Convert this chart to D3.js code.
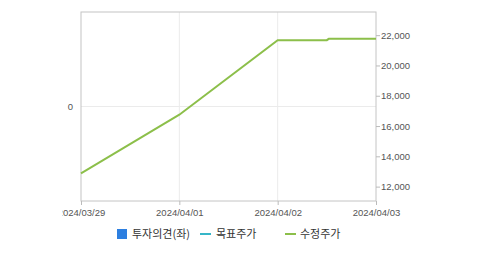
<!DOCTYPE html>
<html>
<head>
<meta charset="utf-8">
<script src="https://cdn.jsdelivr.net/npm/d3@7"></script>
<style>
    body { margin: 0; background: #fff; }
    text { font-family: "Liberation Sans", Arial, sans-serif; }
</style>
</head>
<body>
<div id="chart"></div>
<script>
// dates on the x axis
const dates = ['2024/03/29', '2024/04/01', '2024/04/02', '2024/04/03'];
// 수정주가 points: position along the date axis (index) and price
const priceIdx = [0, 1, 2, 2.5, 2.52, 3];
const priceVal = [12880, 16750, 21670, 21670, 21760, 21760];
// right axis ticks
const rightTicks = [12000, 14000, 16000, 18000, 20000, 22000];
const leftTicks = [0];
const legendItems = ['투자의견(좌)', '목표주가', '수정주가'];

const width = 479, height = 254;
const margin = {top: 12, right: 103, bottom: 53, left: 81};

const svg = d3.select('#chart').append('svg')
    .attr('width', width)
    .attr('height', height);

let x = d3.scaleLinear()
    .domain([0, dates.length - 1])
    .range([margin.left, width - margin.right]);
let y = d3.scaleLinear()
    .domain([11050, 23530])
    .range([height - margin.bottom, margin.top]);
let yLeft = d3.scaleLinear()
    .domain([-1, 1])
    .range([height - margin.bottom, margin.top]);

// grid lines
svg.append('g')
    .selectAll('line')
    .data(dates.slice(1, -1))
    .enter().append('line')
    .attr('x1', (d, i) => x(i + 1))
    .attr('x2', (d, i) => x(i + 1))
    .attr('y1', margin.top)
    .attr('y2', height - margin.bottom)
    .attr('stroke', '#ebebeb');
svg.append('g')
    .selectAll('line')
    .data(leftTicks)
    .enter().append('line')
    .attr('x1', margin.left)
    .attr('x2', width - margin.right)
    .attr('y1', d => yLeft(d))
    .attr('y2', d => yLeft(d))
    .attr('stroke', '#ebebeb');

// plot box
svg.append('rect')
    .attr('x', margin.left)
    .attr('y', margin.top)
    .attr('width', width - margin.left - margin.right)
    .attr('height', height - margin.top - margin.bottom)
    .attr('fill', 'none')
    .attr('stroke', '#c4c4c4');

// bottom axis (first label is cut off on the left, like the original)
svg.append('clipPath').attr('id', 'xclip')
    .append('rect').attr('x', 62.5).attr('y', -5).attr('width', 400).attr('height', 40);
let xAxis = svg.append('g')
    .attr('transform', 'translate(0,' + (height - margin.bottom) + ')')
    .attr('clip-path', 'url(#xclip)')
    .call(d3.axisBottom(x).tickValues(d3.range(dates.length)).tickFormat(i => dates[i]).tickSize(4).tickPadding(4));
// right axis
let yAxis = svg.append('g')
    .attr('transform', 'translate(' + (width - margin.right) + ',0)')
    .call(d3.axisRight(y).tickValues(rightTicks).tickFormat(d3.format(',')).tickSize(4).tickPadding(1));
// left axis
let yAxisL = svg.append('g')
    .attr('transform', 'translate(' + margin.left + ',0)')
    .call(d3.axisLeft(yLeft).tickValues(leftTicks).tickFormat(d3.format('d')).tickSize(0).tickPadding(8));

[xAxis, yAxis, yAxisL].forEach(a => {
    a.select('.domain').remove();
    a.selectAll('line').attr('stroke', '#bbb');
    a.selectAll('text').attr('fill', '#555').style('font-size', '9.5px');
});

// 수정주가 line
let line = d3.line()
    .x(d => x(d[0]))
    .y(d => y(d[1]));
svg.append('path')
    .datum(d3.zip(priceIdx, priceVal))
    .attr('d', line)
    .attr('fill', 'none')
    .attr('stroke', '#8cbf4a')
    .attr('stroke-width', 2);

// legend
let legend = svg.append('g').attr('transform', 'translate(0,234)');
legend.append('rect')
    .attr('x', 117).attr('y', -5).attr('width', 10).attr('height', 10)
    .attr('fill', '#2d7fe0');
legend.append('line')
    .attr('x1', 200).attr('x2', 211).attr('y1', 0).attr('y2', 0)
    .attr('stroke', '#36b6c8').attr('stroke-width', 2);
legend.append('line')
    .attr('x1', 285).attr('x2', 296).attr('y1', 0).attr('y2', 0)
    .attr('stroke', '#8cbf4a').attr('stroke-width', 2);
legend.selectAll('text')
    .data(legendItems)
    .enter().append('text')
    .attr('x', (d, i) => [132, 216, 300][i])
    .attr('dy', '0.35em')
    .style('font-family', '"Noto Sans CJK KR", sans-serif')
    .style('font-size', '11px')
    .attr('fill', '#333')
    .text(d => d);
</script>
</body>
</html>
